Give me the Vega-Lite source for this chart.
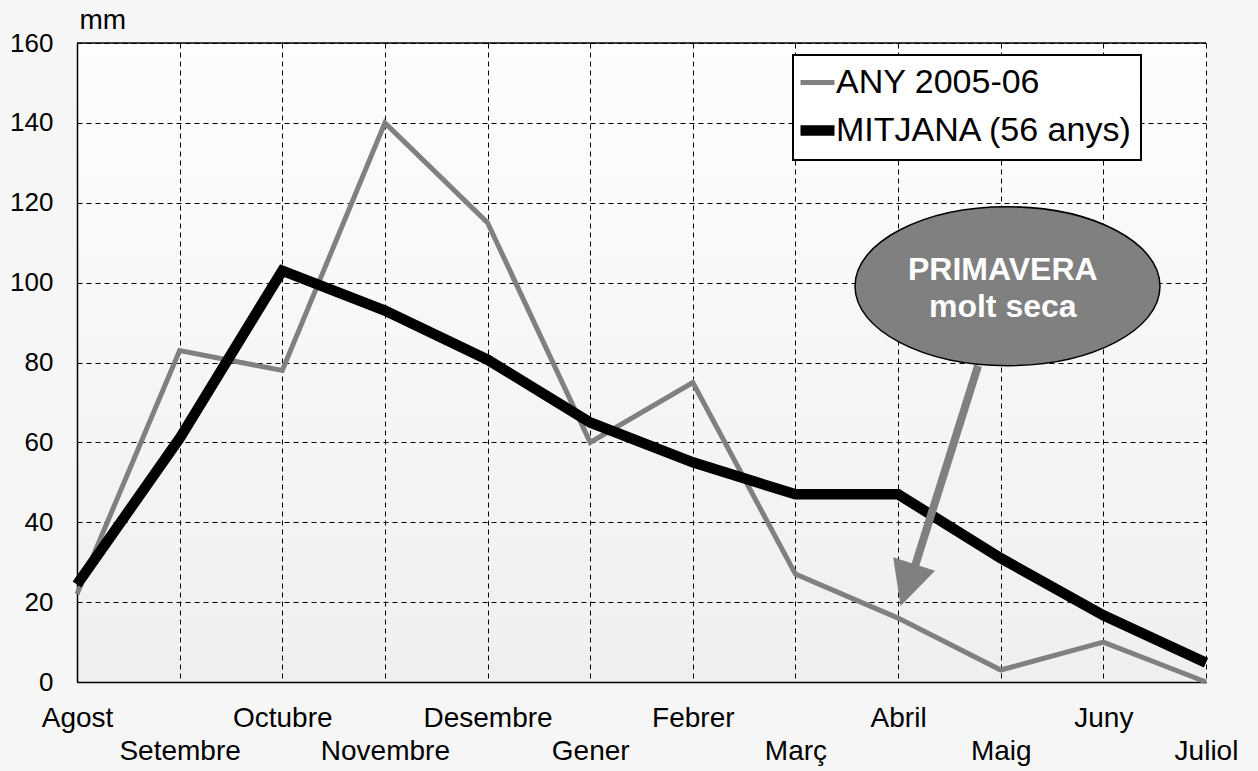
{
  "$schema": "https://vega.github.io/schema/vega-lite/v6.json",
  "width": 1129,
  "height": 639,
  "autosize": {"type": "none"},
  "padding": {"left": 77, "top": 43, "right": 52, "bottom": 89},
  "background": "#f6f6f6",
  "config": {
    "font": "Liberation Sans",
    "view": {
      "stroke": null,
      "fill": {"gradient": "linear", "x1": 0, "y1": 0, "x2": 0, "y2": 1,
        "stops": [{"offset": 0, "color": "#fdfdfd"}, {"offset": 1, "color": "#efefef"}]}
    }
  },
  "datasets": {
    "pluja": [
      {"idx": 0, "mes": "Agost", "serie": "ANY 2005-06", "mm": 22},
      {"idx": 1, "mes": "Setembre", "serie": "ANY 2005-06", "mm": 83},
      {"idx": 2, "mes": "Octubre", "serie": "ANY 2005-06", "mm": 78},
      {"idx": 3, "mes": "Novembre", "serie": "ANY 2005-06", "mm": 140},
      {"idx": 4, "mes": "Desembre", "serie": "ANY 2005-06", "mm": 115},
      {"idx": 5, "mes": "Gener", "serie": "ANY 2005-06", "mm": 60},
      {"idx": 6, "mes": "Febrer", "serie": "ANY 2005-06", "mm": 75},
      {"idx": 7, "mes": "Març", "serie": "ANY 2005-06", "mm": 27},
      {"idx": 8, "mes": "Abril", "serie": "ANY 2005-06", "mm": 16},
      {"idx": 9, "mes": "Maig", "serie": "ANY 2005-06", "mm": 3},
      {"idx": 10, "mes": "Juny", "serie": "ANY 2005-06", "mm": 10},
      {"idx": 11, "mes": "Juliol", "serie": "ANY 2005-06", "mm": 0},
      {"idx": 0, "mes": "Agost", "serie": "MITJANA (56 anys)", "mm": 24.4},
      {"idx": 1, "mes": "Setembre", "serie": "MITJANA (56 anys)", "mm": 61},
      {"idx": 2, "mes": "Octubre", "serie": "MITJANA (56 anys)", "mm": 103},
      {"idx": 3, "mes": "Novembre", "serie": "MITJANA (56 anys)", "mm": 93},
      {"idx": 4, "mes": "Desembre", "serie": "MITJANA (56 anys)", "mm": 80.7},
      {"idx": 5, "mes": "Gener", "serie": "MITJANA (56 anys)", "mm": 65},
      {"idx": 6, "mes": "Febrer", "serie": "MITJANA (56 anys)", "mm": 55},
      {"idx": 7, "mes": "Març", "serie": "MITJANA (56 anys)", "mm": 47},
      {"idx": 8, "mes": "Abril", "serie": "MITJANA (56 anys)", "mm": 47},
      {"idx": 9, "mes": "Maig", "serie": "MITJANA (56 anys)", "mm": 31},
      {"idx": 10, "mes": "Juny", "serie": "MITJANA (56 anys)", "mm": 16.7},
      {"idx": 11, "mes": "Juliol", "serie": "MITJANA (56 anys)", "mm": 4.8}
    ],
    "fletxa": [{"idx": 8.779, "mm": 79.2, "idx2": 8.135, "mm2": 26.6}],
    "punta": [{"idx": 8.09, "mm": 24.3}],
    "globus": [{"idx": 9.066, "mm": 99.1}],
    "textos": [
      {"idx": 9.02, "mm": 100.7, "text": "PRIMAVERA"},
      {"idx": 9.02, "mm": 91.3, "text": "molt seca"}
    ],
    "vora": [{"mm": 160}]
  },
  "layer": [
    {
      "data": {"name": "pluja"},
      "mark": {"type": "line", "strokeCap": "butt"},
      "encoding": {
        "x": {
          "field": "idx", "type": "quantitative",
          "scale": {"domain": [0, 11], "nice": false, "zero": false},
          "axis": {
            "title": null,
            "values": [0, 1, 2, 3, 4, 5, 6, 7, 8, 9, 10, 11],
            "grid": true, "gridDash": [5, 4], "gridColor": "#000000", "gridWidth": 1, "gridOpacity": 1,
            "domain": true, "domainColor": "#000000", "domainWidth": 1.5,
            "ticks": false, "tickSize": 0,
            "labelFontSize": 28, "labelColor": "#000000",
            "labelBaseline": "top", "labelLineHeight": 33, "labelPadding": 22,
            "labelFlush": false, "labelOverlap": false, "labelBound": false, "labelLimit": 300,
            "labelExpr": "datum.value % 2 == 1 ? ['', ['Agost','Setembre','Octubre','Novembre','Desembre','Gener','Febrer','Març','Abril','Maig','Juny','Juliol'][datum.value]] : ['Agost','Setembre','Octubre','Novembre','Desembre','Gener','Febrer','Març','Abril','Maig','Juny','Juliol'][datum.value]"
          }
        },
        "y": {
          "field": "mm", "type": "quantitative",
          "scale": {"domain": [0, 160], "nice": false},
          "axis": {
            "title": "mm", "titleAngle": 0, "titleAlign": "left", "titleBaseline": "alphabetic",
            "titleX": 2, "titleY": -15, "titleFontSize": 28, "titleFontWeight": "normal", "titleColor": "#000000",
            "values": [0, 20, 40, 60, 80, 100, 120, 140, 160],
            "grid": true, "gridDash": [5, 4], "gridColor": "#000000", "gridWidth": 1, "gridOpacity": 1,
            "domain": true, "domainColor": "#000000", "domainWidth": 1.5,
            "ticks": false, "tickSize": 0,
            "labelFontSize": 26, "labelColor": "#000000", "labelPadding": 24
          }
        },
        "color": {
          "field": "serie", "type": "nominal",
          "scale": {"domain": ["ANY 2005-06", "MITJANA (56 anys)"], "range": ["#808080", "#000000"]},
          "legend": {
            "title": null, "orient": "none", "legendX": 716, "legendY": 12,
            "fillColor": "#ffffff", "strokeColor": "#000000", "padding": 8,
            "labelFontSize": 34, "labelColor": "#000000", "labelOffset": -4, "labelLimit": 400,
            "symbolType": "stroke", "symbolSize": 1156, "symbolStrokeWidth": 5, "symbolOffset": -6, "rowPadding": 8,
            "encode": {
              "legend": {"update": {"strokeWidth": {"value": 2}}},
              "symbols": {"update": {"strokeWidth": {"signal": "datum.value == 'MITJANA (56 anys)' ? 11 : 5"}}}
            }
          }
        },
        "strokeWidth": {
          "field": "serie", "type": "nominal",
          "scale": {"domain": ["ANY 2005-06", "MITJANA (56 anys)"], "range": [5, 10.5]},
          "legend": null
        }
      }
    },
    {
      "data": {"name": "fletxa"},
      "mark": {"type": "rule", "color": "#808080", "strokeWidth": 8, "strokeCap": "butt"},
      "encoding": {
        "x": {"field": "idx", "type": "quantitative"},
        "y": {"field": "mm", "type": "quantitative"},
        "x2": {"field": "idx2"},
        "y2": {"field": "mm2"}
      }
    },
    {
      "data": {"name": "punta"},
      "mark": {"type": "point", "shape": "M-1,-1L1,-1L0,1Z", "size": 1936, "angle": 18, "filled": true, "fill": "#808080", "opacity": 1, "strokeWidth": 0},
      "encoding": {
        "x": {"field": "idx", "type": "quantitative"},
        "y": {"field": "mm", "type": "quantitative"}
      }
    },
    {
      "data": {"name": "globus"},
      "mark": {"type": "point", "shape": "M1,0C1,0.2878,0.5523,0.521,0,0.521C-0.5523,0.521,-1,0.2878,-1,0C-1,-0.2878,-0.5523,-0.521,0,-0.521C0.5523,-0.521,1,-0.2878,1,0Z", "size": 93025, "filled": true, "fill": "#808080", "stroke": "#000000", "strokeWidth": 1.5, "opacity": 1},
      "encoding": {
        "x": {"field": "idx", "type": "quantitative"},
        "y": {"field": "mm", "type": "quantitative"}
      }
    },
    {
      "data": {"name": "textos"},
      "mark": {"type": "text", "font": "Liberation Sans", "fontSize": 32, "fontWeight": "bold", "color": "#ffffff", "align": "center", "baseline": "alphabetic"},
      "encoding": {
        "x": {"field": "idx", "type": "quantitative"},
        "y": {"field": "mm", "type": "quantitative"},
        "text": {"field": "text"}
      }
    },
    {
      "data": {"name": "vora"},
      "mark": {"type": "rule", "color": "#000000", "strokeWidth": 1.5},
      "encoding": {
        "y": {"field": "mm", "type": "quantitative"}
      }
    }
  ]
}
